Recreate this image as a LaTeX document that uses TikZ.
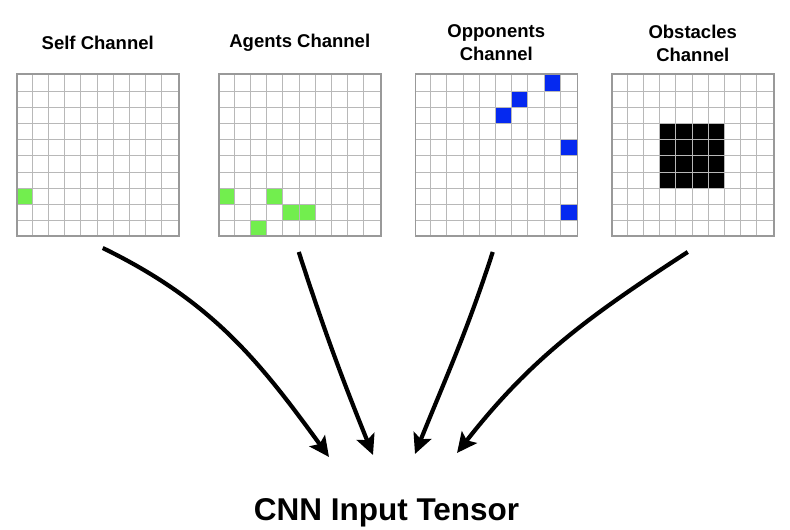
\documentclass[tikz,border=0pt]{standalone}
\usepackage{fontspec}
\setmainfont{Liberation Sans}
\usetikzlibrary{arrows.meta,positioning}

\definecolor{gridgray}{HTML}{B8B8B8}
\definecolor{edgegray}{HTML}{999999}
\definecolor{agentgreen}{HTML}{72EE4E}
\definecolor{oppblue}{HTML}{0529F0}

% fill one cell: grid left edge, column, row (counted from the bottom), colour
\newcommand{\paintcell}[4]{\fill[#4] (#1+#2*16.2, 293+#3*16.2) rectangle ++(16.2,16.2);}

\begin{document}
\begin{tikzpicture}[x=1pt, y=1pt,
    gridline/.style={gridgray, line width=1pt},
    gridbox/.style={draw=edgegray, line width=1.5pt, minimum size=162pt, inner sep=0pt},
    title/.style={font=\bfseries\fontsize{18.5}{23}\selectfont, align=center},
    flow/.style={line width=4.2pt, -{Stealth[length=20pt, width=19pt, inset=4pt]}}]

    \useasboundingbox (0,0) rectangle (790,530);

    % Occupied cells of each channel
    \paintcell{16}{0}{2}{agentgreen}
    \foreach \c/\r in {0/2, 3/2, 4/1, 5/1, 2/0}
        {\paintcell{218}{\c}{\r}{agentgreen}}
    \foreach \c/\r in {8/9, 6/8, 5/7, 9/5, 9/1}
        {\paintcell{414.5}{\c}{\r}{oppblue}}
    \foreach \c in {3,...,6}
        \foreach \r in {3,...,6}
            {\paintcell{611}{\c}{\r}{black}}

    % Draw the 10x10 grids
    \foreach \name/\xo in {self/16, agents/218, opp/414.5, obst/611} {
        \foreach \i in {1,...,9}
            \draw[gridline] (\xo+\i*16.2, 293) -- ++(0,162)
                            (\xo, 293+\i*16.2) -- ++(162,0);
        \node[gridbox, anchor=south west] (\name) at (\xo,293) {};
    }

    % Label the channels
    \node[title] (selftitle) at ([yshift=30.5pt]self.north) {Self Channel};
    \node[title] (agentstitle) at ([yshift=30.5pt]agents.north) {Agents Channel};
    \node[title] (opptitle) at ([yshift=30.5pt]opp.north) {Opponents\\Channel};
    \node[title] (obsttitle) at ([yshift=30.5pt]obst.north) {Obstacles\\Channel};

    \node[font=\bfseries\fontsize{31.5}{36}\selectfont, anchor=base] (tensor) at (386.5,9) {CNN Input Tensor};

    % Arrows into the tensor
    \coordinate (self-out) at ([shift={(5,-11)}]self.south);
    \coordinate (agents-out) at ([shift={(-1,-15)}]agents.south);
    \coordinate (opp-out) at ([shift={(-3.5,-15)}]opp.south);
    \coordinate (obst-out) at ([shift={(-5,-15)}]obst.south);
    \coordinate (tip1) at (329,73);
    \coordinate (tip2) at (373,75);
    \coordinate (tip3) at (415,76);
    \coordinate (tip4) at (457,77);

    \draw[flow] (self-out) to[out=-26, in=126] (tip1);
    \draw[flow] (agents-out) to[out=-72, in=112] (tip2);
    \draw[flow] (opp-out) to[out=-108, in=68] (tip3);
    \draw[flow] (obst-out) to[out=-147, in=52] (tip4);

\end{tikzpicture}
\end{document}
